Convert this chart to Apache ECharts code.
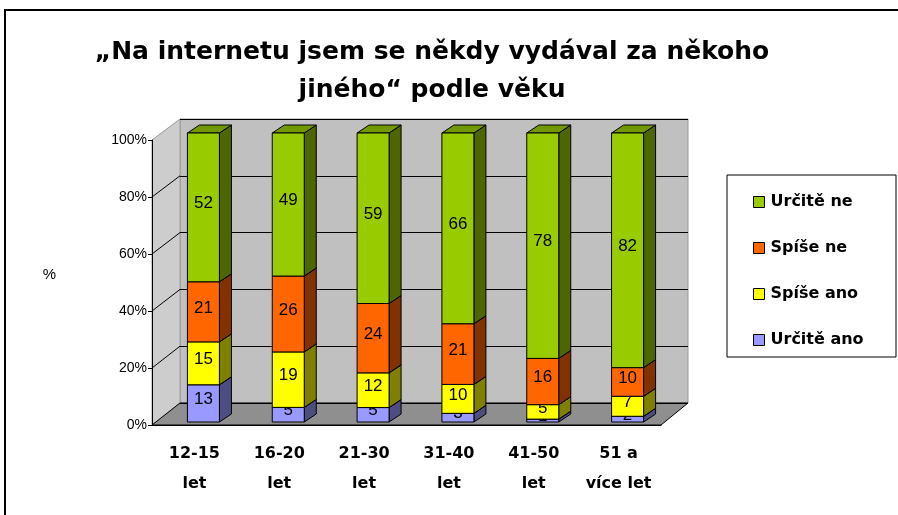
<!DOCTYPE html>
<html>
<head>
<meta charset="utf-8">
<script src="https://cdn.jsdelivr.net/npm/echarts@6/dist/echarts.min.js"></script>
<style>
  html, body { margin: 0; padding: 0; background: #fff; }
  #chart { width: 898px; height: 515px; }
</style>
</head>
<body>
<div id="chart"></div>
<script>
// věkové skupiny
const categories = ['12-15\nlet', '16-20\nlet', '21-30\nlet', '31-40\nlet', '41-50\nlet', '51 a\nvíce let'];
// odpovědi (počty v %)
const urciteAno = [13, 5, 5, 3, 1, 2];
const spiseAno = [15, 19, 12, 10, 5, 7];
const spiseNe = [21, 26, 24, 21, 16, 10];
const urciteNe = [52, 49, 59, 66, 78, 82];
const yTicks = [0, 20, 40, 60, 80, 100];

const answers = [
  { name: 'Určitě ano', values: urciteAno, front: '#9999ff', side: '#4d4d80', top: '#7373bf' },
  { name: 'Spíše ano', values: spiseAno, front: '#ffff00', side: '#808000', top: '#bfbf00' },
  { name: 'Spíše ne', values: spiseNe, front: '#ff6600', side: '#803300', top: '#bf4d00' },
  { name: 'Určitě ne', values: urciteNe, front: '#99cc00', side: '#4d6600', top: '#739900' }
];

// 100% skládání - přepočet na podíly
const totals = categories.map((c, i) => answers.reduce((s, a) => s + a.values[i], 0));
const base = categories.map(() => 0);

function renderPrism(params, api) {
  const cat = api.value(0);
  const lo = api.value(1);
  const hi = api.value(2);
  const raw = api.value(3);
  const pLo = api.coord([cat, lo]);
  const pHi = api.coord([cat, hi]);
  const ans = answers[params.seriesIndex];
  const w = 32, dx = 12, dy = 8;
  const x0 = pLo[0] - w / 2, x1 = pLo[0] + w / 2;
  const yTop = pHi[1], yBot = pLo[1];
  return {
    type: 'group',
    children: [
      {
        type: 'polygon',
        shape: { points: [[x1, yBot], [x1 + dx, yBot - dy], [x1 + dx, yTop - dy], [x1, yTop]] },
        style: { fill: ans.side, stroke: '#000', lineWidth: 1 }
      },
      {
        type: 'polygon',
        shape: { points: [[x0, yTop], [x0 + dx, yTop - dy], [x1 + dx, yTop - dy], [x1, yTop]] },
        style: { fill: ans.top, stroke: '#000', lineWidth: 1 }
      },
      {
        type: 'rect',
        shape: { x: x0, y: yTop, width: w, height: yBot - yTop },
        style: { fill: ans.front, stroke: '#000', lineWidth: 1 }
      },
      {
        type: 'text',
        style: {
          x: pLo[0], y: (yTop + yBot) / 2 - 4,
          text: String(raw),
          fill: '#000',
          font: '17px "Liberation Sans", Arial, sans-serif',
          align: 'center', verticalAlign: 'middle'
        }
      }
    ]
  };
}

const series = answers.map((a) => {
  const data = a.values.map((v, i) => {
    const lo = base[i];
    const hi = lo + v / totals[i] * 100;
    base[i] = hi;
    return [i, lo, hi, v];
  });
  return {
    name: a.name,
    type: 'custom',
    xAxisIndex: 1,
    yAxisIndex: 1,
    itemStyle: { color: a.front },
    renderItem: renderPrism,
    encode: { x: 0, y: [1, 2] },
    data: data
  };
});

const chart = echarts.init(document.getElementById('chart'));

const option = {
  animation: false,
  backgroundColor: '#fff',
  title: {
    text: '„Na internetu jsem se někdy vydával za někoho\njiného“ podle věku',
    left: 427,
    top: 28,
    textAlign: 'center',
    textStyle: {
      fontFamily: 'DejaVu Sans',
      fontWeight: 'bold',
      fontSize: 25,
      lineHeight: 38,
      color: '#000'
    }
  },
  legend: {
    orient: 'vertical',
    left: 748,
    top: 187,
    itemGap: 26,
    itemWidth: 11,
    itemHeight: 11,
    icon: 'rect',
    itemStyle: { borderColor: '#000', borderWidth: 1 },
    data: ['Určitě ne', 'Spíše ne', 'Spíše ano', 'Určitě ano'],
    textStyle: {
      fontFamily: 'DejaVu Sans',
      fontWeight: 'bold',
      fontSize: 16,
      lineHeight: 20,
      color: '#000',
      padding: [0, 0, 0, 1]
    }
  },
  grid: [
    // přední rovina (osy a popisky)
    { left: 152, right: 237, top: 140, bottom: 90 },
    // sloupce
    { left: 161, right: 228, top: 133, bottom: 93 },
    // zadní stěna
    { left: 180, right: 210, top: 119, bottom: 112 }
  ],
  xAxis: [
    {
      gridIndex: 0,
      type: 'category',
      data: categories,
      axisLine: { lineStyle: { color: '#000', width: 1 } },
      axisTick: { length: 5, lineStyle: { color: '#000' } },
      axisLabel: {
        interval: 0,
        margin: 14,
        color: '#000',
        fontFamily: 'DejaVu Sans',
        fontWeight: 'bold',
        fontSize: 16,
        lineHeight: 30
      }
    },
    { gridIndex: 1, type: 'category', data: categories, show: false },
    { gridIndex: 2, type: 'category', data: categories, show: false }
  ],
  yAxis: [
    {
      gridIndex: 0,
      type: 'value',
      min: 0,
      max: 100,
      interval: 20,
      name: '%',
      nameLocation: 'middle',
      nameGap: 96,
      nameRotate: 0,
      nameTextStyle: { color: '#000', fontFamily: 'Liberation Sans', fontSize: 15, verticalAlign: 'bottom' },
      axisLine: { show: true, lineStyle: { color: '#000', width: 1 } },
      axisTick: { show: true, length: 4, lineStyle: { color: '#000' } },
      splitLine: { show: false },
      axisLabel: {
        margin: 5,
        color: '#000',
        fontFamily: 'Liberation Sans',
        fontSize: 14,
        formatter: '{value}%'
      }
    },
    { gridIndex: 1, type: 'value', min: 0, max: 100, show: false },
    {
      gridIndex: 2,
      type: 'value',
      min: 0,
      max: 100,
      interval: 20,
      axisLine: { show: false },
      axisTick: { show: false },
      axisLabel: { show: false },
      splitLine: { show: true, lineStyle: { color: '#000', width: 1 } }
    }
  ],
  graphic: [
    // zadní stěna
    { type: 'rect', z: -10, shape: { x: 180, y: 119, width: 508, height: 284 }, style: { fill: '#c0c0c0', stroke: '#9a9a9a', lineWidth: 1 } },
    // levá stěna
    { type: 'polygon', z: -10, shape: { points: [[152, 140], [180, 119], [180, 403], [152, 425]] }, style: { fill: '#cdcdcd', stroke: '#9a9a9a', lineWidth: 1 } },
    // podlaha
    { type: 'polygon', z: -9, shape: { points: [[152, 425], [180, 403], [688, 403], [661, 425]] }, style: { fill: '#8f8f8f', stroke: '#000', lineWidth: 1 } },
    // rámeček
    { type: 'rect', z: 50, shape: { x: 5, y: 10, width: 900, height: 520 }, style: { fill: 'none', stroke: '#000', lineWidth: 2 } },
    // rámeček legendy
    { type: 'rect', z: 50, shape: { x: 727, y: 175, width: 169, height: 182 }, style: { fill: 'none', stroke: '#000', lineWidth: 1 } }
  ],
  series: series
};

chart.setOption(option);

// šikmé čáry mřížky na levé stěně
const slants = yTicks.slice(1, 5).map((v) => {
  const yf = chart.convertToPixel({ yAxisIndex: 0 }, v);
  const yb = chart.convertToPixel({ yAxisIndex: 2 }, v);
  return { type: 'line', z: -8, shape: { x1: 152, y1: yf, x2: 180, y2: yb }, style: { stroke: '#000', lineWidth: 1 } };
});
chart.setOption({ graphic: option.graphic.concat(slants) });
</script>
</body>
</html>
